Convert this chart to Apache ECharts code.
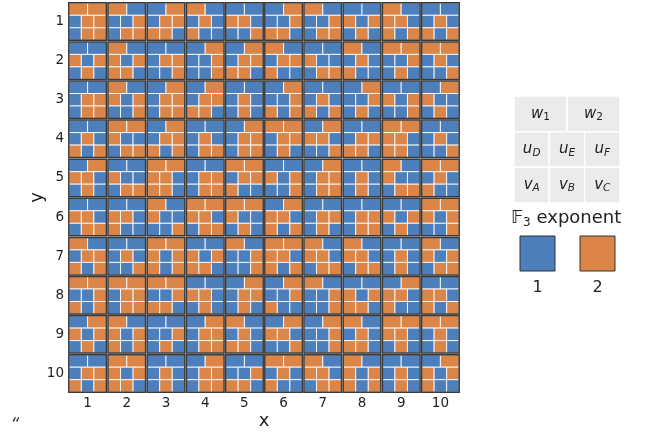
<!DOCTYPE html>
<html><head><meta charset="utf-8">
<script src="https://cdn.jsdelivr.net/npm/echarts@6/dist/echarts.min.js"></script>
<style>html,body{margin:0;padding:0;background:#fff}#c{width:648px;height:435px}</style>
</head><body><div id="c"></div>
<script>
const FONT = 'DejaVu Sans';
const xCategories = ['1','2','3','4','5','6','7','8','9','10'];
const yCategories = ['1','2','3','4','5','6','7','8','9','10'];
const levels = ['1','2'];
const levelColors = ['#4c7fbb','#dc8548'];
// part order inside each cell code: w1 w2 | uD uE uF | vA vB vC  (1 = blue, 2 = orange)
const partNames = [['w','1'],['w','2'],['u','D'],['u','E'],['u','F'],['v','A'],['v','B'],['v','C']];
const row1  = ['22122122','21112122','12122221','21121211','11221112','12112221','21112122','11212121','21221212','11121212'];
const row2  = ['11212121','21212221','11122112','12112112','12122221','21122211','11211122','21121211','22112121','22121112'];
const row3  = ['11122122','21212112','12122122','12122221','11121121','12112212','11121212','12112121','11212112','12211121'];
const row4  = ['11121212','22211122','12122212','11121122','12122122','22122121','12221112','11122221','22221221','11121112'];
const row5  = ['12221121','11211122','22221221','11122122','22122211','11212112','12122122','11121121','21211122','22121211'];
const row6  = ['11221122','11221211','21211112','22221122','22211121','12221212','11122121','11122122','11212121','22212112'];
const row7  = ['21122212','11121112','22212212','11212221','21112112','22221212','21221122','21221122','11121121','21212122'];
const row8  = ['22112212','22122122','22112221','11221121','12122121','12112211','21112112','11212221','12221211','11221212'];
const row9  = ['12212121','21212212','11112121','12122122','21121221','12221112','12112112','21121221','22221121','22121121'];
const row10 = ['11122212','22212221','11121121','12122122','11112221','22121211','21221122','21212212','11121121','12212211'];
const cellRows = [row1,row2,row3,row4,row5,row6,row7,row8,row9,row10];

const data = [];
cellRows.forEach((row, r) => row.forEach((code, c) => {
  data.push([c, r].concat(code.split('').map(Number)));
}));

function renderItem(params, api) {
  const p = api.coord([api.value(0), api.value(1)]);
  const sz = api.size([1, 1]);
  const cw = sz[0] - 1.6, ch = sz[1] - 1.6;
  const x0 = p[0] - cw / 2, y0 = p[1] - ch / 2;
  const rh = ch / 3;
  const children = [];
  const layout = [[0,0,2],[0,1,2],[1,0,3],[1,1,3],[1,2,3],[2,0,3],[2,1,3],[2,2,3]];
  layout.forEach((L, i) => {
    const w = cw / L[2];
    const v = api.value(2 + i);
    children.push({
      type: 'rect',
      shape: { x: x0 + L[1] * w, y: y0 + L[0] * rh, width: w, height: rh },
      style: { fill: levelColors[v - 1], stroke: 'rgba(255,255,255,0.85)', lineWidth: 1 }
    });
  });
  children.push({
    type: 'rect',
    shape: { x: x0, y: y0, width: cw, height: ch },
    style: { fill: 'none', stroke: '#3a3a3a', lineWidth: 1.5 }
  });
  return { type: 'group', children };
}

// key diagram
const keyX = 514, keyY = 96, keyW = 106, keyH = 107;
const graphics = [];
const keyRows = [[0,1],[2,3,4],[5,6,7]];
keyRows.forEach((parts, ri) => {
  const w = keyW / parts.length, h = keyH / 3;
  parts.forEach((pi, ci) => {
    graphics.push({
      type: 'rect', shape: { x: keyX + ci * w, y: keyY + ri * h, width: w, height: h },
      style: { fill: '#ebebeb', stroke: '#fff', lineWidth: 1.5 }, z: 1
    });
    graphics.push({
      type: 'text', x: keyX + ci * w + w / 2, y: keyY + ri * h + h / 2, z: 2,
      style: {
        text: '{m|' + partNames[pi][0] + '}{s|' + partNames[pi][1] + '}',
        align: 'center', verticalAlign: 'middle',
        rich: {
          m: { fontFamily: FONT, fontSize: 15, fontStyle: 'italic', fill: '#222', lineHeight: 18 },
          s: { fontFamily: FONT, fontSize: 10.5, fontStyle: /[A-Z]/.test(partNames[pi][1]) ? 'italic' : 'normal', fill: '#222', lineHeight: 9, verticalAlign: 'bottom' }
        }
      }
    });
  });
});
graphics.push({
  type: 'text', x: 511, y: 218, z: 2,
  style: {
    text: '{b|𝔽}{s|3}{t| exponent}', align: 'left', verticalAlign: 'middle',
    rich: {
      b: { fontFamily: FONT, fontSize: 18, fill: '#222', lineHeight: 22 },
      s: { fontFamily: FONT, fontSize: 12, fill: '#222', lineHeight: 11, verticalAlign: 'bottom' },
      t: { fontFamily: FONT, fontSize: 18, fill: '#222', lineHeight: 22 }
    }
  }
});
levels.forEach((lv, i) => {
  graphics.push({
    type: 'rect', shape: { x: 520 + i * 60, y: 236, width: 35, height: 35 },
    style: { fill: levelColors[i], stroke: '#333', lineWidth: 1 }, z: 2
  });
  graphics.push({
    type: 'text', x: 537.5 + i * 60, y: 287.5, z: 2,
    style: { text: lv, align: 'center', verticalAlign: 'middle', fontFamily: FONT, fontSize: 16, fill: '#222' }
  });
});
graphics.push({
  type: 'text', x: 15, y: 426, z: 2,
  style: { text: '“', align: 'center', verticalAlign: 'middle', fontFamily: FONT, fontSize: 17, fontStyle: 'italic', fill: '#333' }
});

const chart = echarts.init(document.getElementById('c'), null, { renderer: 'canvas' });
chart.setOption({
  animation: false,
  backgroundColor: '#fff',
  grid: { left: 68, top: 2, width: 392, height: 392, show: true, backgroundColor: '#e3e3e3', borderWidth: 0 },
  xAxis: {
    type: 'category', data: xCategories,
    axisLine: { show: false }, axisTick: { show: false },
    splitLine: { show: true, lineStyle: { color: '#fff', width: 0.8 } },
    axisLabel: { fontFamily: FONT, fontSize: 13.5, color: '#222', margin: 3 },
    name: 'x', nameLocation: 'middle', nameGap: 19, nameMoveOverlap: false,
    nameTextStyle: { fontFamily: FONT, fontSize: 18, color: '#222' }
  },
  yAxis: {
    type: 'category', data: yCategories, inverse: true,
    axisLine: { show: false }, axisTick: { show: false },
    splitLine: { show: true, lineStyle: { color: '#fff', width: 0.8 } },
    axisLabel: { fontFamily: FONT, fontSize: 13.5, color: '#222', margin: 4 },
    name: 'y', nameLocation: 'middle', nameGap: 22, nameMoveOverlap: false,
    nameTextStyle: { fontFamily: FONT, fontSize: 18, color: '#222' }
  },
  series: [{
    type: 'custom', renderItem, data,
    encode: { x: 0, y: 1 }
  }],
  graphic: graphics
});
</script></body></html>
